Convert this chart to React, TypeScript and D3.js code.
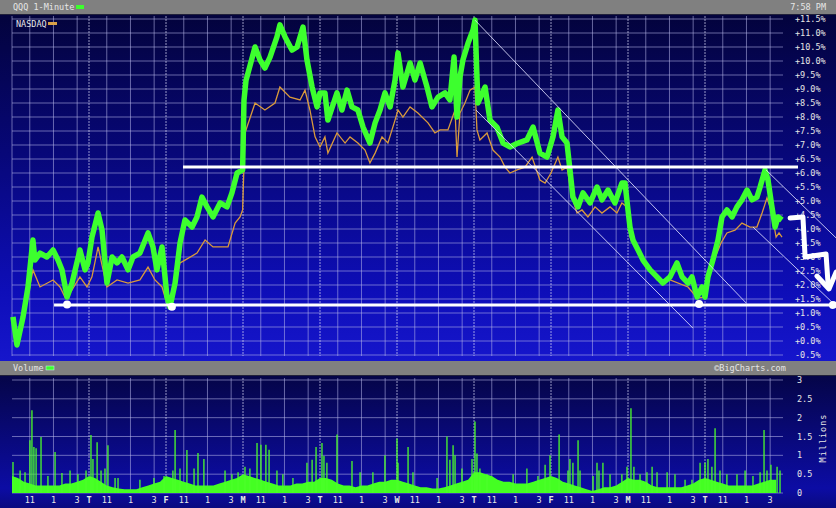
import * as d3 from "d3";

// QQQ 1-minute, % change, sampled off the chart (trading minutes since first open)
const qqqMinutes = [
  5, 25, 56, 81, 106, 116, 142, 177, 208, 233, 253, 279, 304, 344, 370, 385,
  405, 436, 456, 481, 507, 532, 557, 588, 613, 648, 689, 714, 734, 760, 775,
  785, 800, 826, 851, 876, 912, 937, 962, 988, 1018, 1054, 1089, 1114, 1140, 1168,
  1175, 1185, 1231, 1256, 1281, 1307, 1342, 1357, 1383, 1418, 1444, 1474, 1494, 1520, 1545, 1560,
  1585, 1600, 1646, 1671, 1697, 1722, 1752, 1778, 1813, 1839, 1864, 1889, 1915, 1940, 1955,
  1980, 2016, 2041, 2067, 2102, 2127, 2158, 2193, 2218, 2239, 2254, 2269, 2284, 2310, 2335, 2345,
  2355, 2360, 2396, 2421, 2456, 2487, 2522, 2563, 2608, 2639, 2674, 2710, 2740,
  2765, 2786, 2811, 2826, 2841, 2867, 2892, 2928, 2963, 2988, 3019, 3054, 3089, 3105, 3120,
  3130, 3145, 3171, 3196, 3232, 3267, 3297, 3333, 3368, 3394, 3424, 3444, 3470, 3495, 3510,
  3525, 3550, 3576, 3596, 3621, 3647, 3672, 3697, 3723, 3748, 3773, 3789, 3814, 3829, 3849, 3865, 3880, 3900,
];
const qqqPct = [
  0.86, -0.14, 0.86, 1.93, 3.61, 2.89, 3.14, 3.0, 3.25, 2.89, 2.54, 1.57, 2.07, 3.25, 2.54, 2.79,
  3.71, 4.57, 3.96, 2.07, 3.0, 2.79, 3.0, 2.54, 3.0, 3.14, 3.86, 3.36, 2.54, 3.36, 2.29,
  1.57, 1.21, 2.07, 3.5, 4.32, 4.07, 4.43, 5.14, 4.79, 4.43, 4.93, 4.79, 5.29, 6.0, 6.11,
  8.6, 9.3, 10.5, 10.04, 9.75, 10.14, 10.86, 11.29, 10.86, 10.39, 10.5, 11.21, 10.04, 9.07, 8.36, 8.86,
  8.86, 7.89, 8.86, 8.25, 8.96, 8.36, 8.25, 7.64, 7.07, 7.79, 8.25, 8.86, 8.36, 9.32, 10.29,
  9.07, 9.93, 9.32, 9.93, 9.07, 8.36, 8.71, 8.86, 8.61, 10.14, 8.0, 9.43, 10.04, 10.64, 11.11, 11.46,
  9.43, 8.5, 9.07, 7.89, 7.64, 7.07, 6.93, 7.07, 7.18, 7.64, 6.71, 6.57, 7.29,
  8.25, 7.29, 7.07, 6.11, 5.14, 4.79, 5.29, 4.93, 5.5, 5.04, 5.39, 4.93, 5.64, 5.64, 4.68,
  4.07, 3.61, 3.25, 2.89, 2.54, 2.29, 2.07, 2.29, 2.79, 2.29, 2.07, 2.29, 1.57, 1.93, 1.57,
  2.29, 2.89, 3.61, 4.43, 4.68, 4.43, 4.79, 5.04, 5.39, 5.04, 5.14, 5.5, 6.11, 5.75, 4.79, 4.07, 4.43, 4.32,
];

// NASDAQ composite, % change
const ndxMinutes = [
  5, 25, 56, 81, 106, 142, 208, 243, 268, 294, 344, 380,
  405, 436, 456, 481, 532, 588, 648, 689, 724, 760, 775,
  785, 810, 851, 876, 937, 978, 1018, 1054, 1094, 1130, 1155, 1168,
  1180, 1231, 1281, 1332, 1357, 1408, 1459, 1484, 1509, 1535, 1560,
  1585, 1600, 1646, 1687, 1712, 1752, 1788, 1813, 1839, 1874, 1904, 1940, 1955,
  1980, 2016, 2056, 2107, 2142, 2168, 2208, 2244, 2254, 2269, 2294, 2320, 2345,
  2355, 2370, 2406, 2436, 2472, 2497, 2522, 2558, 2598, 2634, 2674, 2700, 2730,
  2765, 2786, 2811, 2836, 2862, 2887, 2917, 2953, 2988, 3029, 3064, 3089, 3115,
  3130, 3196, 3267, 3333, 3424, 3470, 3510,
  3525, 3550, 3591, 3621, 3662, 3697, 3738, 3773, 3799, 3824, 3849, 3870, 3885, 3900,
];
const ndxPct = [
  0.6, 0.0, 0.7, 1.6, 2.54, 1.93, 2.18, 1.93, 1.57, 1.71, 2.29, 1.93,
  2.29, 3.36, 2.71, 1.93, 2.18, 2.07, 2.18, 2.64, 2.18, 1.93, 1.57,
  1.57, 1.36, 2.79, 2.89, 3.14, 3.61, 3.36, 3.36, 3.36, 4.21, 4.43, 4.68,
  7.43, 8.5, 8.25, 8.5, 9.07, 8.71, 8.61, 8.96, 8.25, 7.29, 6.93,
  7.29, 6.71, 7.43, 7.07, 7.29, 7.07, 6.82, 6.36, 6.71, 7.29, 7.07, 7.89, 8.25,
  8.0, 8.36, 8.14, 7.79, 7.43, 7.54, 7.54, 8.25, 6.57, 8.14, 8.5, 8.96, 9.07,
  7.54, 7.18, 7.43, 6.82, 6.57, 6.21, 6.0, 6.11, 6.21, 6.57, 5.75, 5.64, 6.0,
  6.57, 6.11, 6.21, 5.14, 4.57, 4.68, 4.43, 4.79, 4.57, 4.79, 4.57, 4.93, 4.79,
  3.71, 2.79, 2.18, 2.18, 1.93, 1.54, 1.57,
  2.18, 2.79, 3.5, 3.86, 3.96, 4.21, 4.07, 4.07, 4.57, 5.11, 4.57, 3.71, 3.86, 3.71,
];

// volume floor (millions), one reading every 30 minutes of each session
const volBase = [
  0.45, 0.4, 0.3, 0.25, 0.2, 0.2, 0.2, 0.2, 0.2, 0.25, 0.25, 0.3, 0.35,
  0.45, 0.4, 0.3, 0.2, 0.15, 0.12, 0.1, 0.1, 0.1, 0.15, 0.2, 0.25, 0.3,
  0.45, 0.4, 0.35, 0.3, 0.25, 0.2, 0.2, 0.2, 0.2, 0.25, 0.3, 0.35, 0.4,
  0.5, 0.45, 0.4, 0.35, 0.3, 0.25, 0.2, 0.2, 0.2, 0.25, 0.25, 0.3, 0.3,
  0.4, 0.4, 0.35, 0.25, 0.2, 0.2, 0.15, 0.2, 0.2, 0.25, 0.3, 0.3, 0.35,
  0.35, 0.3, 0.25, 0.2, 0.15, 0.15, 0.12, 0.12, 0.15, 0.2, 0.25, 0.3, 0.35,
  0.55, 0.55, 0.5, 0.45, 0.35, 0.3, 0.3, 0.25, 0.25, 0.25, 0.3, 0.35, 0.4,
  0.45, 0.4, 0.3, 0.25, 0.2, 0.15, 0.1, 0.05, 0.1, 0.15, 0.15, 0.2, 0.3,
  0.4, 0.35, 0.35, 0.3, 0.2, 0.15, 0.15, 0.15, 0.15, 0.15, 0.2, 0.25, 0.35,
  0.4, 0.35, 0.3, 0.25, 0.2, 0.2, 0.2, 0.2, 0.2, 0.25, 0.3, 0.35, 0.35,
];
// single-minute volume spikes
const volSpikeMinutes = [
  5, 41, 66, 91, 101, 111, 122, 147, 182, 218, 253, 294, 334, 375, 400, 410, 431, 451, 471, 486,
  522, 537, 648, 719, 770, 815, 826, 851, 886, 922, 942, 972, 1079, 1114, 1145, 1180, 1205, 1241,
  1261, 1286, 1302, 1342, 1372, 1423, 1494, 1520, 1540, 1570, 1580, 1595, 1646, 1722, 1763, 1828,
  1889, 1950, 1955, 2006, 2031, 2153, 2203, 2218, 2234, 2244, 2279, 2330, 2345, 2355, 2370, 2406,
  2538, 2608, 2664, 2700, 2725, 2771, 2816, 2826, 2841, 2867, 2877, 2943, 2963, 2973, 2993, 3029,
  3089, 3115, 3135, 3150, 3181, 3216, 3242, 3267, 3318, 3358, 3409, 3444, 3485, 3510, 3525, 3545,
  3561, 3586, 3621, 3672, 3713, 3753, 3789, 3809, 3824, 3844, 3875, 3890,
];
const volSpikeMillions = [
  0.82, 0.6, 0.55, 1.4, 2.2, 1.22, 1.19, 1.49, 0.45, 1.09, 0.53, 0.6, 0.5, 0.6, 1.54, 0.9, 1.35, 0.6, 0.65, 1.27,
  0.4, 0.4, 0.35, 0.4, 0.45, 0.6, 1.67, 0.65, 1.14, 0.65, 1.06, 0.9, 0.6, 0.5, 0.55, 0.7, 0.65, 1.33,
  1.28, 1.28, 1.15, 0.6, 0.5, 0.4, 0.8, 0.88, 1.22, 1.33, 0.98, 0.8, 1.55, 0.85, 0.55, 0.55,
  1.0, 1.45, 0.8, 1.22, 0.55, 0.4, 1.5, 0.88, 1.27, 1.0, 0.65, 0.9, 1.9, 1.05, 0.65, 0.5,
  0.5, 0.65, 0.45, 0.75, 1.0, 1.55, 0.6, 0.9, 0.8, 1.4, 0.6, 0.45, 0.8, 0.6, 0.8, 0.5,
  0.5, 0.7, 2.25, 0.7, 0.5, 0.55, 0.7, 0.55, 0.55, 0.5, 0.35, 0.35, 0.8, 0.8, 0.9, 0.7,
  1.72, 0.6, 0.5, 0.5, 0.6, 0.45, 0.55, 1.67, 0.6, 0.75, 0.7, 0.6,
];

// axis labels
const dayLetters = ["", "T", "F", "M", "T", "W", "T", "F", "M", "T"];
const hourLabels = ["11", "1", "3"];
const hourMinutes = [90, 210, 330];
const pctTicks = d3.range(-0.5, 11.51, 0.5);
const volTicks = [0, 0.5, 1, 1.5, 2, 2.5, 3];

// hand-drawn annotations, in chart units (minute, %)
const flatLines = [
  { from: 213, to: 4158, pct: 1.29 },
  { from: 866, to: 3981, pct: 6.21 },
];
const dots = [
  [279, 1.3], [810, 1.22], [3480, 1.32], [4158, 1.29],
];
const channelLines = [
  [[2345, 11.46], [3718, 1.36]],
  [[2350, 8.25], [3449, 0.46]],
  [[3819, 6.11], [4174, 3.68]],
  [[3753, 4.07], [4153, 1.39]],
];
const squiggle = [
  [3941, 4.39], [4006, 4.43], [4017, 3.0], [4123, 3.11], [4133, 2.07],
];
const arrowHead = [
  [4077, 2.32], [4138, 1.86], [4174, 2.46],
];

const FONT = "'DejaVu Sans Mono', monospace";
const GRID = "rgba(185,185,235,0.55)";
const DAY_GRID = "rgba(215,215,245,0.7)";

export default function App() {
  const x = d3.scaleLinear().domain([0, 3900]).range([12, 782]);
  const y = d3.scaleLinear().domain([-0.5, 11.5]).range([355, 19]);
  const yv = d3.scaleLinear().domain([0, 3]).range([493, 380]);

  const path = (ms: number[], ps: number[]) =>
    d3
      .line<number>()
      .x((d) => x(d))
      .y((_, i) => y(ps[i]))(ms) ?? "";

  const ptLine = d3
    .line<number[]>()
    .x((d) => x(d[0]))
    .y((d) => y(d[1]));

  const baseMinutes = volBase.map((_, i) => Math.floor(i / 13) * 390 + (i % 13) * 30);
  const volArea =
    d3
      .area<number>()
      .x((d) => x(d))
      .y0(yv(0))
      .y1((_, i) => yv(volBase[i]))(baseMinutes) ?? "";

  // grid verticals: day opens plus 11, 1 and 3 o'clock
  const vLines: { m: number; day: boolean }[] = [];
  for (let d = 0; d < 10; d++) {
    if (d > 0) vLines.push({ m: d * 390, day: true });
    hourMinutes.forEach((h) => vLines.push({ m: d * 390 + h, day: false }));
  }

  const xLabels: { m: number; t: string }[] = [];
  for (let d = 0; d < 10; d++) {
    if (dayLetters[d]) xLabels.push({ m: d * 390, t: dayLetters[d] });
    hourMinutes.forEach((h, k) => xLabels.push({ m: d * 390 + h, t: hourLabels[k] }));
  }

  const fmtPct = (p: number) =>
    `${p < 0 ? "-" : "+"}${Math.abs(p).toFixed(1)}%`;

  return (
    <svg
      width={836}
      height={508}
      style={{ position: "absolute", left: 0, top: 0, display: "block" }}
      fontFamily={FONT}
    >
      <defs>
        <linearGradient id="mainBg" x1="0" y1="0" x2="0" y2="1">
          <stop offset="0" stopColor="#03033c" />
          <stop offset="0.4" stopColor="#070778" />
          <stop offset="0.8" stopColor="#0e0eb8" />
          <stop offset="1" stopColor="#1616cc" />
        </linearGradient>
        <linearGradient id="volBg" x1="0" y1="0" x2="0" y2="1">
          <stop offset="0" stopColor="#050548" />
          <stop offset="0.85" stopColor="#0c0ca4" />
          <stop offset="1" stopColor="#0a0a80" />
        </linearGradient>
      </defs>

      {/* backgrounds and title bars */}
      <rect x={0} y={0} width={836} height={508} fill="#06064a" />
      <rect x={0} y={14} width={836} height={347} fill="url(#mainBg)" />
      <rect x={0} y={376} width={836} height={132} fill="url(#volBg)" />
      <rect x={0} y={0} width={836} height={14} fill="#808080" />
      <rect x={0} y={361} width={836} height={14} fill="#808080" />
      <line x1={0} x2={836} y1={14.5} y2={14.5} stroke="#20203a" />
      <line x1={0} x2={836} y1={375.5} y2={375.5} stroke="#20203a" />

      <text x={13} y={10} fontSize={8.5} fill="#e6e6e6">QQQ 1-Minute</text>
      <rect x={76} y={5} width={8} height={4} fill="#3dff2e" />
      <text x={826} y={10} fontSize={8.5} fill="#e6e6e6" textAnchor="end">7:58 PM</text>

      <text x={13} y={371} fontSize={8.5} fill="#e6e6e6">Volume</text>
      <rect x={46} y={366} width={8} height={4} fill="#3dff2e" stroke="#cfe" strokeWidth={0.5} />
      <text x={750} y={371} fontSize={8.5} fill="#e6e6e6" textAnchor="middle">©BigCharts.com</text>

      {/* price grid */}
      <g>
        {pctTicks.map((p) => (
          <line key={p} x1={12} x2={783} y1={y(p)} y2={y(p)} stroke={GRID} strokeWidth={1} />
        ))}
        {vLines.map((v, i) => (
          <line
            key={i}
            x1={x(v.m)}
            x2={x(v.m)}
            y1={16}
            y2={356}
            stroke={v.day ? DAY_GRID : GRID}
            strokeDasharray={v.day ? "2,1" : undefined}
          />
        ))}
        <line x1={12} x2={12} y1={16} y2={356} stroke={GRID} />
      </g>

      <text x={16} y={27} fontSize={8.5} fill="#e6e6e6">NASDAQ</text>
      <rect x={48} y={22} width={9} height={3} fill="#d8a048" />

      {/* right % axis */}
      {pctTicks.map((p) => (
        <text key={p} x={795} y={y(p) + 3} fontSize={8.5} fill="#e6e6e6">
          {fmtPct(p)}
        </text>
      ))}

      {/* series */}
      <path d={path(ndxMinutes, ndxPct)} fill="none" stroke="#d99a3c" strokeWidth={1.3} />
      <path
        d={path(qqqMinutes, qqqPct)}
        fill="none"
        stroke="#3dff2e"
        strokeWidth={5.5}
        strokeLinejoin="round"
      />

      {/* annotations */}
      {channelLines.map((seg, i) => (
        <path key={i} d={ptLine(seg) ?? ""} stroke="rgba(225,225,255,0.85)" strokeWidth={1} fill="none" />
      ))}
      {flatLines.map((f, i) => (
        <line key={i} x1={x(f.from)} x2={x(f.to)} y1={y(f.pct)} y2={y(f.pct)} stroke="#ffffff" strokeWidth={3} />
      ))}
      {dots.map((d, i) => (
        <circle key={i} cx={x(d[0])} cy={y(d[1])} r={4} fill="#ffffff" />
      ))}
      <path d={ptLine(squiggle) ?? ""} fill="none" stroke="#ffffff" strokeWidth={5} strokeLinejoin="round" strokeLinecap="round" />
      <path d={ptLine(arrowHead) ?? ""} fill="none" stroke="#ffffff" strokeWidth={5} strokeLinejoin="round" strokeLinecap="round" />

      {/* volume grid */}
      {volTicks.map((v) => (
        <line key={v} x1={12} x2={783} y1={yv(v)} y2={yv(v)} stroke={GRID} />
      ))}
      {vLines.map((v, i) => (
        <line
          key={i}
          x1={x(v.m)}
          x2={x(v.m)}
          y1={378}
          y2={493}
          stroke={v.day ? DAY_GRID : GRID}
          strokeDasharray={v.day ? "2,1" : undefined}
        />
      ))}

      {/* volume */}
      <path d={volArea} fill="#44ff22" />
      {volSpikeMinutes.map((m, i) => (
        <line
          key={i}
          x1={x(m)}
          x2={x(m)}
          y1={yv(0)}
          y2={yv(volSpikeMillions[i])}
          stroke="#4cff2a"
          strokeWidth={1.3}
        />
      ))}

      {volTicks.map((v) => (
        <text key={v} x={797} y={yv(v) + 3} fontSize={8.5} fill="#e6e6e6">
          {v}
        </text>
      ))}
      <text
        transform="translate(826,438) rotate(-90)"
        fontSize={8.5}
        fill="#e6e6e6"
        textAnchor="middle"
        letterSpacing={1}
      >
        Millions
      </text>

      {/* time labels */}
      {xLabels.map((l, i) => (
        <text
          key={i}
          x={x(l.m)}
          y={503}
          fontSize={8.5}
          fill="#e6e6e6"
          textAnchor="middle"
          fontWeight={/[A-Z]/.test(l.t) ? "bold" : "normal"}
        >
          {l.t}
        </text>
      ))}
    </svg>
  );
}
